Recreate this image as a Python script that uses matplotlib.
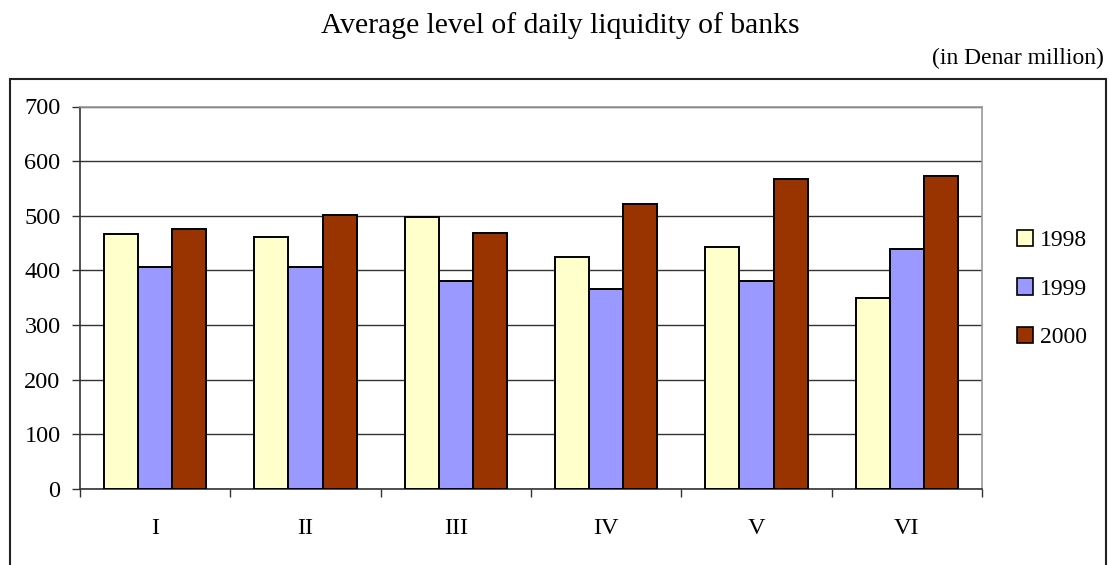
import matplotlib
matplotlib.use('Agg')
import matplotlib.pyplot as plt
import matplotlib.patches as mpatches
import numpy as np

months = ['I', 'II', 'III', 'IV', 'V', 'VI']
years = ['1998', '1999', '2000']
values_1998 = [466, 461, 498, 425, 443, 349]
values_1999 = [406, 406, 381, 366, 381, 440]
values_2000 = [476, 502, 468, 521, 568, 572]
colors = ['#FFFFCC', '#9999FF', '#993300']

plt.rcParams['font.family'] = ['Liberation Serif', 'DejaVu Serif']

W, H = 1109, 565
fig = plt.figure(figsize=(W / 100, H / 100), dpi=100)

# plot area in pixel coords
left, right, top, bottom = 80, 982, 106.5, 489
ax = fig.add_axes([left / W, 1 - bottom / H, (right - left) / W, (bottom - top) / H])

x = np.arange(len(months))
width = 0.227
for i, (vals, col, lab) in enumerate(zip([values_1998, values_1999, values_2000], colors, years)):
    ax.bar(x + (i - 1) * width, vals, width, color=col, edgecolor='black',
           linewidth=1.4, label=lab, zorder=3)

ax.set_xlim(-0.5, len(months) - 0.5)
ax.set_ylim(0, 700)
ax.set_yticks(range(0, 701, 100))
ax.yaxis.grid(True, color='#333333', linewidth=1.0, zorder=0)

ax.set_xticks(x)
ax.set_xticklabels(months)
ax.set_xticks(np.arange(-0.5, len(months), 1.0), minor=True)
ax.tick_params(axis='x', which='major', length=0, pad=21, labelsize=17.5)
ax.tick_params(axis='x', which='minor', length=6, width=1, direction='out', color='#333333')
ax.tick_params(axis='y', length=6, width=1, direction='out', pad=8, labelsize=17.5, color='#333333')

for side in ['top', 'right']:
    ax.spines[side].set_color('#999999')
    ax.spines[side].set_linewidth(1.2)
for side in ['left', 'bottom']:
    ax.spines[side].set_color('#333333')
    ax.spines[side].set_linewidth(1.2)

handles = [mpatches.Patch(facecolor=c, edgecolor='black', linewidth=1.2) for c in colors]
fig.legend(handles, years, loc='center left', bbox_to_anchor=(1005 / W, 1 - 289 / H),
           frameon=False, fontsize=17, handlelength=0.7, handleheight=0.7,
           handletextpad=0.3, labelspacing=1.15, borderpad=0)

fig.text(560 / W, 1 - 26 / H, 'Average level of daily liquidity of banks',
         ha='center', va='center', fontsize=21.3)
fig.text(1104 / W, 1 - 58 / H, '(in Denar million)', ha='right', va='center', fontsize=17)

# outer chart border, cut off at the bottom
border = mpatches.Rectangle((10 / W, -0.1), (1106 - 10) / W, 1.1 - 79 / H,
                            transform=fig.transFigure, fill=False,
                            edgecolor='#222222', linewidth=1.5, clip_on=False)
fig.patches.append(border)

fig.savefig('out.png', dpi=100)
